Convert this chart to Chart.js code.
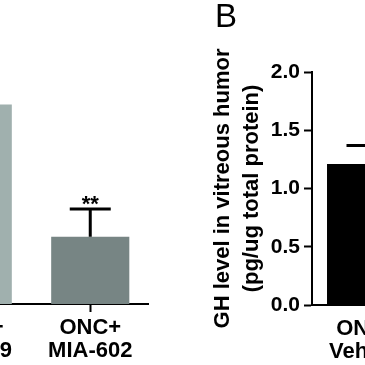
<!DOCTYPE html>
<html>
<head>
<meta charset="utf-8">
<script src="https://cdn.jsdelivr.net/npm/chart.js@4"></script>
<style>
html,body{margin:0;padding:0;background:#fff;}
body{width:365px;height:365px;overflow:hidden;position:relative;}
#boxA{position:absolute;left:-86px;top:0;width:235px;height:365px;}
#boxB{position:absolute;left:200px;top:0;width:222px;height:365px;}
#panelB{position:absolute;left:215px;top:-1px;font:33px "Liberation Sans",Arial,sans-serif;line-height:33px;color:#000;}
</style>
</head>
<body>
<div id="boxA"><canvas id="graficoA"></canvas></div>
<div id="boxB"><canvas id="graficoB"></canvas></div>
<div id="panelB">B</div>
<script>
// panel A (cut off on the left)
const catsA = [["ONC+","MR-409"],["ONC+","MIA-602"]];
const valsA = [1.72, 0.58];
const errsA = [0.15, 0.24];
const sigA = ["", "**"];

// panel B (cut off on the right)
const catsB = [["ONC+","Vehicle"]];
const valsB = [1.21];
const errsB = [0.16];
const sigB = [""];
const ticksB = [0, 0.5, 1.0, 1.5, 2.0];

const FONT = "'Liberation Sans', Arial, sans-serif";

// error bars drawn from the chart's own y scale
const errBars = {
  id: "errBars",
  afterDatasetsDraw(chart, args, opts){
    const ctx = chart.ctx;
    const y = chart.scales.y;
    const meta = chart.getDatasetMeta(0);
    ctx.save();
    ctx.strokeStyle = "#000";
    ctx.fillStyle = "#000";
    ctx.lineWidth = 3;
    ctx.font = "bold 22px " + FONT;
    ctx.textAlign = "center";
    ctx.textBaseline = "alphabetic";
    meta.data.forEach(function(bar, i){
      const top = y.getPixelForValue(opts.values[i] + opts.errors[i]);
      ctx.beginPath();
      ctx.moveTo(bar.x, bar.y);
      ctx.lineTo(bar.x, top);
      ctx.moveTo(bar.x - 20.5, top);
      ctx.lineTo(bar.x + 20.5, top);
      ctx.stroke();
      if(opts.marks[i]){
        ctx.fillText(opts.marks[i], bar.x, top + 2);
      }
    });
    ctx.restore();
  }
};

const xAxis = function(h){
  return {
    offset:true,
    grid:{drawOnChartArea:false, offset:false, color:"#000", tickLength:8, tickWidth:2},
    border:{color:"#000", width:2},
    ticks:{color:"#000", padding:4, maxRotation:0, autoSkip:false,
      font:{family:FONT, size:22, weight:"bold", lineHeight:1.05}},
    afterFit:function(s){ s.height = h; }
  };
};

new Chart(document.getElementById("graficoA"),{
  type:"bar",
  data:{
    labels:catsA,
    datasets:[{
      data:valsA,
      backgroundColor:["#a0b0ae","#778584"],
      barPercentage:0.665,
      categoryPercentage:1
    }]
  },
  options:{
    responsive:true,
    maintainAspectRatio:false,
    animation:false,
    layout:{padding:{top:72,left:0,right:0,bottom:0}},
    plugins:{
      legend:{display:false},
      tooltip:{enabled:false},
      errBars:{values:valsA, errors:errsA, marks:sigA}
    },
    scales:{
      x:xAxis(61),
      y:{display:false, min:0, max:2}
    }
  },
  plugins:[errBars]
});

new Chart(document.getElementById("graficoB"),{
  type:"bar",
  data:{
    labels:catsB,
    datasets:[{
      data:valsB,
      backgroundColor:"#000",
      barPercentage:0.727,
      categoryPercentage:1
    }]
  },
  options:{
    responsive:true,
    maintainAspectRatio:false,
    animation:false,
    layout:{padding:{top:72,left:0,right:0,bottom:0}},
    plugins:{
      legend:{display:false},
      tooltip:{enabled:false},
      errBars:{values:valsB, errors:errsB, marks:sigB}
    },
    scales:{
      x:xAxis(60),
      y:{
        min:0, max:2,
        afterBuildTicks:function(s){ s.ticks = ticksB.map(function(v){ return {value:v}; }); },
        grid:{drawOnChartArea:false, color:"#000", tickLength:8, tickWidth:2},
        border:{color:"#000", width:2},
        ticks:{color:"#000", padding:4,
          font:{family:FONT, size:21, weight:"bold"},
          callback:function(v){ return Number(v).toFixed(1); }},
        title:{
          display:true,
          text:["GH level in vitreous humor","(pg/ug total protein)"],
          color:"#000",
          padding:{top:8.5, bottom:0},
          font:{family:FONT, size:22, weight:"bold", lineHeight:1.318}
        },
        afterFit:function(s){ s.width = 112; }
      }
    }
  },
  plugins:[errBars]
});
</script>
</body>
</html>
